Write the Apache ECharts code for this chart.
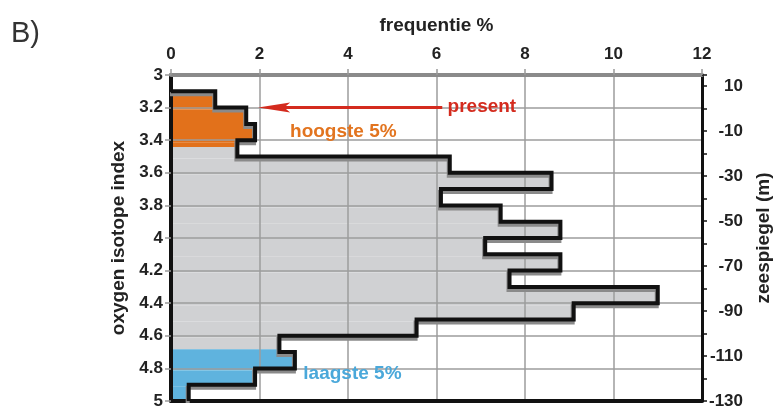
<!DOCTYPE html>
<html>
<head>
<meta charset="utf-8">
<script src="https://cdn.jsdelivr.net/npm/echarts@6/dist/echarts.min.js"></script>
<style>
  html, body { margin: 0; padding: 0; background: #fff; }
  #chart { width: 774px; height: 406px; }
</style>
</head>
<body>
<div id="chart"></div>
<script>
// bins of the oxygen isotope index (upper edges follow from binWidth)
const binStarts = [3.1, 3.2, 3.3, 3.4, 3.5, 3.6, 3.7, 3.8, 3.9, 4.0, 4.1, 4.2, 4.3, 4.4, 4.5, 4.6, 4.7, 4.8, 4.9]
const binWidth = 0.1
const frequency = [1.0, 1.7, 1.9, 1.5, 6.3, 8.6, 6.1, 7.45, 8.8, 7.1, 8.8, 7.65, 11.0, 9.1, 5.55, 2.45, 2.8, 1.9, 0.4]
// where the highest 5% and lowest 5% shaded parts end
const highestCut = 3.43
const lowestCut = 4.67
// arrow "present": from x, to x, at isotope index
const arrowFrom = 6.13
const arrowTo = 1.97
const arrowAt = 3.2
// annotation texts
const noteTexts = ['present', 'hoogste 5%', 'laagste 5%']
const noteX = [6.25, 2.69, 2.99]
const noteY = [3.196, 3.35, 4.83]
const noteColors = ['#d42b1e', '#e2741f', '#4aa8da']

const FONT = 'Liberation Sans, Arial, sans-serif'
const fillOrange = '#e2711b'
const fillGrey = '#d0d1d3'
const fillBlue = '#5fb3de'

// split bins into coloured pieces
const fillPieces = []
for (let i = 0; i < binStarts.length; i++) {
  const y0 = binStarts[i]
  const y1 = +(binStarts[i] + binWidth).toFixed(2)
  const cuts = [y0]
  if (highestCut > y0 && highestCut < y1) cuts.push(highestCut)
  if (lowestCut > y0 && lowestCut < y1) cuts.push(lowestCut)
  cuts.push(y1)
  for (let k = 0; k < cuts.length - 1; k++) {
    const mid = (cuts[k] + cuts[k + 1]) / 2
    let c = fillGrey
    if (mid < highestCut) c = fillOrange
    else if (mid > lowestCut) c = fillBlue
    fillPieces.push([frequency[i], cuts[k], cuts[k + 1], c])
  }
}

// step outline
const outline = []
for (let i = 0; i < binStarts.length; i++) {
  outline.push([frequency[i], binStarts[i]])
  outline.push([frequency[i], +(binStarts[i] + binWidth).toFixed(2)])
}
outline.unshift([0, binStarts[0]])

const chart = echarts.init(document.getElementById('chart'))
const option = {
  animation: false,
  title: {
    text: 'B)',
    left: 6,
    top: 14,
    textStyle: { fontFamily: FONT, fontSize: 29, fontWeight: 'normal', color: '#333' }
  },
  grid: {
    left: 171,
    right: 72,
    top: 75,
    bottom: 5,
    outerBoundsMode: 'none'
  },
  xAxis: [{
    type: 'value',
    position: 'top',
    min: 0,
    max: 12,
    interval: 2,
    name: 'frequentie %',
    nameLocation: 'middle',
    nameGap: 40,
    nameTextStyle: { fontFamily: FONT, fontSize: 19, fontWeight: 'bold', color: '#222' },
    axisLine: { show: true, onZero: false, lineStyle: { color: '#8a8a8a', width: 4 } },
    axisTick: { show: true, length: 6, lineStyle: { color: '#999', width: 1.5 } },
    axisLabel: { margin: 12, fontFamily: FONT, fontSize: 17, fontWeight: 'bold', color: '#222' },
    splitLine: { show: true, lineStyle: { color: '#9c9c9c', width: 1.5 } }
  }, {
    type: 'value',
    position: 'bottom',
    min: 0,
    max: 12,
    axisLine: { show: true, onZero: false, lineStyle: { color: '#111', width: 4 } },
    axisTick: { show: false },
    axisLabel: { show: false },
    splitLine: { show: false }
  }],
  yAxis: [{
    type: 'value',
    inverse: true,
    min: 3,
    max: 5,
    interval: 0.2,
    name: 'oxygen isotope index',
    nameLocation: 'middle',
    nameRotate: 90,
    nameGap: 41,
    nameTextStyle: { fontFamily: FONT, fontSize: 19, fontWeight: 'bold', color: '#222' },
    axisLine: { show: true, onZero: false, lineStyle: { color: '#111', width: 4 } },
    axisTick: { show: true, length: 6, lineStyle: { color: '#999', width: 1.5 } },
    axisLabel: { margin: 8, fontFamily: FONT, fontSize: 17, fontWeight: 'bold', color: '#222' },
    splitLine: { show: true, lineStyle: { color: '#9c9c9c', width: 1.5 } }
  }, {
    type: 'value',
    position: 'right',
    min: -130,
    max: 15,
    interval: 10,
    name: 'zeespiegel (m)',
    nameLocation: 'middle',
    nameRotate: 90,
    nameGap: 51,
    nameTextStyle: { fontFamily: FONT, fontSize: 19, fontWeight: 'bold', color: '#222' },
    axisLine: { show: true, onZero: false, lineStyle: { color: '#111', width: 3 } },
    axisTick: { show: true, length: 5, lineStyle: { color: '#111', width: 1.5 } },
    axisLabel: {
      margin: 41,
      align: 'right',
      fontFamily: FONT,
      fontSize: 17,
      fontWeight: 'bold',
      color: '#222',
      formatter: function (v) { return (v + 130) % 20 === 0 ? String(v) : '' }
    },
    splitLine: { show: false }
  }],
  series: [{
    // coloured fill of the histogram, under the grid lines
    type: 'custom',
    z: -1,
    xAxisIndex: 0,
    yAxisIndex: 0,
    data: fillPieces,
    renderItem: function (params, api) {
      const p0 = api.coord([0, api.value(1)])
      const p1 = api.coord([api.value(0), api.value(2)])
      return {
        type: 'rect',
        shape: { x: p0[0], y: p0[1] + 2, width: p1[0] - p0[0] - 2, height: p1[1] - p0[1] },
        style: { fill: fillPieces[params.dataIndex][3] }
      }
    }
  }, {
    // black step outline
    type: 'line',
    xAxisIndex: 0,
    yAxisIndex: 0,
    data: outline,
    showSymbol: false,
    symbol: 'none',
    z: 5,
    lineStyle: {
      color: '#111',
      width: 4,
      join: 'miter',
      shadowColor: '#8a8a8a',
      shadowOffsetX: -1,
      shadowOffsetY: 3,
      shadowBlur: 0
    }
  }, {
    // red arrow
    type: 'custom',
    xAxisIndex: 0,
    yAxisIndex: 0,
    z: 6,
    data: [[arrowFrom, arrowTo, arrowAt]],
    renderItem: function (params, api) {
      const a = api.coord([api.value(0), api.value(2)])
      const b = api.coord([api.value(1), api.value(2)])
      return {
        type: 'group',
        children: [{
          type: 'line',
          shape: { x1: a[0], y1: a[1], x2: b[0] + 20, y2: b[1] },
          style: { stroke: '#d42b1e', lineWidth: 3 }
        }, {
          type: 'polygon',
          shape: { points: [[b[0], b[1]], [b[0] + 32, b[1] - 5], [b[0] + 26, b[1]], [b[0] + 32, b[1] + 5]] },
          style: { fill: '#d42b1e' }
        }]
      }
    }
  }, {
    // annotation texts
    type: 'custom',
    xAxisIndex: 0,
    yAxisIndex: 0,
    z: 7,
    data: noteX.map(function (x, i) { return [x, noteY[i]] }),
    renderItem: function (params, api) {
      const p = api.coord([api.value(0), api.value(1)])
      return {
        type: 'text',
        x: p[0],
        y: p[1],
        style: {
          text: noteTexts[params.dataIndex],
          fill: noteColors[params.dataIndex],
          font: 'bold 19px ' + FONT,
          textAlign: 'left',
          textVerticalAlign: 'middle'
        }
      }
    }
  }]
}
chart.setOption(option)
</script>
</body>
</html>
